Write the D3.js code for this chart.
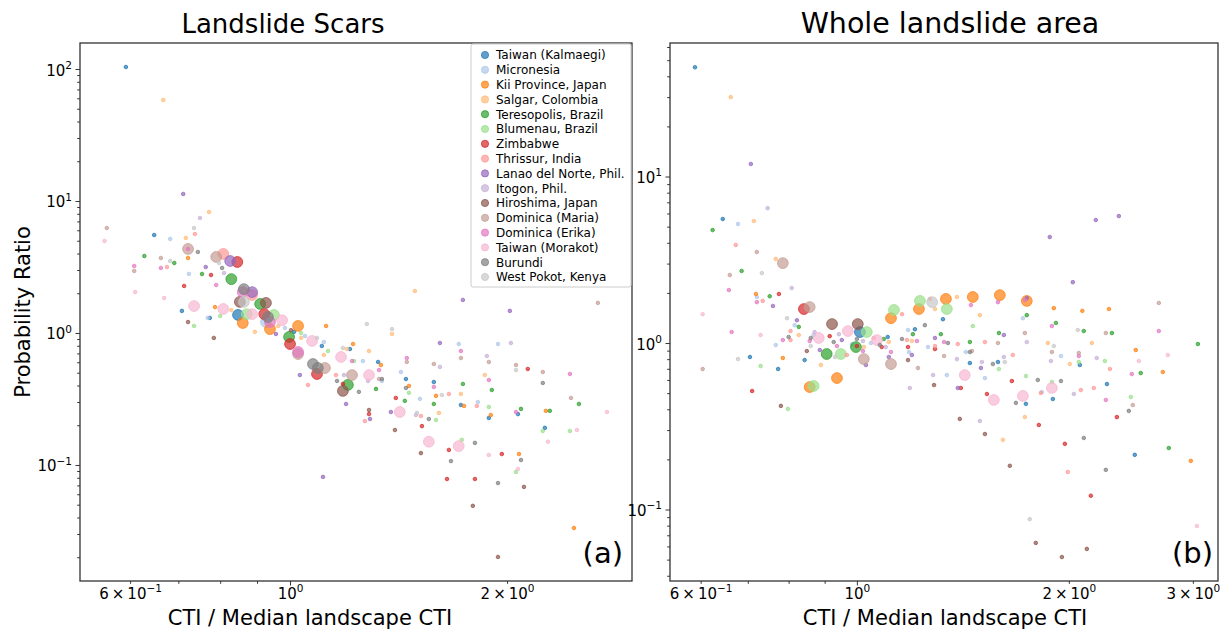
<!DOCTYPE html>
<html><head><meta charset="utf-8">
<script src="https://cdn.jsdelivr.net/npm/d3@7"></script>
<style>body{margin:0;background:#fff} svg text{font-family:"DejaVu Sans",sans-serif}</style>
</head><body><svg id="c" width="1227" height="632"></svg>
<script>
const events = ["Taiwan (Kalmaegi)","Micronesia","Kii Province, Japan","Salgar, Colombia","Teresopolis, Brazil","Blumenau, Brazil","Zimbabwe","Thrissur, India","Lanao del Norte, Phil.","Itogon, Phil.","Hiroshima, Japan","Dominica (Maria)","Dominica (Erika)","Taiwan (Morakot)","Burundi","West Pokot, Kenya"];
const eventColors = ["#1f77b4","#aec7e8","#ff7f0e","#ffbb78","#2ca02c","#98df8a","#d62728","#ff9896","#9467bd","#c5b0d5","#8c564b","#c49c94","#e377c2","#f7b6d2","#7f7f7f","#c7c7c7"];

// [CTI / median CTI, probability ratio, event index, sample weight]
const scarsPoints = [
[0.592,103.5,0,1],[0.667,58.2,3,1],[0.711,11.3,8,1],[0.772,8.26,3,1],[0.750,7.43,9,1],[0.557,6.24,11,1],[0.736,6.24,15,1],[0.738,5.62,7,1],[0.648,5.52,0,1],[0.553,4.98,13,1],
[0.682,5.16,1,1],[0.717,5.25,3,1],[0.722,4.33,11,9],[0.722,4.33,12,1],[0.628,3.83,4,1],[0.745,4.11,14,1],[0.662,3.70,11,1],[0.722,3.70,2,1],[0.790,3.77,11,9],[0.808,3.97,7,9],
[0.826,3.51,8,9],[0.845,3.45,6,9],[0.682,3.51,15,1],[0.691,3.39,4,1],[0.608,3.22,12,1],[0.608,2.95,11,1],[0.662,3.11,12,1],[0.675,3.16,7,1],[0.764,3.16,8,1],[0.805,3.11,14,1],
[0.797,3.39,15,1],[0.724,2.80,1,1],[0.755,2.80,4,1],[0.777,2.75,6,1],[0.810,2.85,9,1],[0.829,2.56,4,9],[0.713,2.27,6,1],[0.790,2.31,12,1],[0.610,2.04,13,1],[0.863,2.15,14,9],
[0.886,2.04,8,9],[0.860,2.04,12,9],[0.886,1.94,7,9],[0.669,1.84,13,1],[0.852,1.72,10,9],[0.863,1.72,15,9],[0.909,1.66,4,9],[0.926,1.69,10,9],[0.736,1.60,13,9],[0.808,1.52,13,9],
[0.787,1.57,2,1],[0.829,1.49,3,1],[0.708,1.47,0,1],[0.847,1.37,0,9],[0.871,1.39,5,9],[0.886,1.39,13,9],[0.921,1.39,6,9],[0.950,1.37,5,9],[0.932,1.32,14,9],[0.975,1.25,13,9],
[0.769,1.30,1,1],[0.774,1.30,0,1],[0.800,1.345,5,1],[0.722,1.21,10,1],[0.860,1.19,2,9],[0.926,1.21,1,9],[0.938,1.21,12,9],[1.026,1.13,2,9],[1.122,1.13,2,1],[0.736,1.13,5,1],
[0.938,1.07,2,9],[0.963,1.13,3,1],[0.984,1.09,1,1],[0.997,0.933,4,9],[1.278,1.17,15,1],[1.385,1.07,15,1],[1.385,0.983,3,1],[1.490,2.08,3,1],[1.737,1.78,8,1],[0.784,0.917,10,1],
[0.894,1.02,3,1],[0.956,0.983,8,1],[1.049,0.949,1,1],[1.090,0.917,15,1],[1.013,1.02,0,1],[1.003,1.05,10,1],[1.0,0.825,6,9],[1.036,0.917,3,1],[1.036,1.0,5,1],[1.073,0.870,13,9],
[1.026,0.718,12,9],[1.026,0.693,11,9],[1.107,0.797,0,1],[1.114,0.855,1,1],[1.129,0.730,5,1],[1.114,0.681,3,1],[1.184,0.770,15,1],[1.199,0.756,3,1],[1.211,0.756,0,1],[1.223,0.825,2,1],
[1.177,0.658,13,9],[1.227,0.613,5,1],[1.219,0.613,12,1],[1.262,0.613,1,1],[1.076,0.582,14,9],[1.093,0.543,14,9],[1.118,0.543,11,9],[1.090,0.489,6,9],[1.158,0.480,7,1],[1.188,0.480,9,1],
[1.219,0.480,11,9],[1.287,0.480,13,9],[1.032,0.480,8,1],[1.059,0.404,7,1],[1.162,0.433,14,1],[1.203,0.404,4,9],[1.184,0.364,10,9],[1.184,0.411,6,1],[1.246,0.358,14,1],[1.196,0.290,8,1],
[2.018,1.47,8,1],[2.673,1.69,11,1],[1.614,0.840,8,1],[1.714,0.825,1,1],[1.943,0.825,1,1],[2.025,0.840,9,1],[1.726,0.730,12,1],[1.726,0.646,11,1],[1.875,0.669,9,1],[1.887,0.603,11,1],
[1.583,0.582,11,1],[1.614,0.553,9,1],[2.058,0.572,11,1],[2.058,0.524,15,1],[2.137,0.534,6,1],[2.242,0.506,11,1],[2.445,0.489,12,1],[2.242,0.418,14,1],[1.863,0.480,3,1],[1.887,0.440,12,1],
[1.737,0.411,4,1],[1.905,0.370,4,1],[1.452,0.646,12,1],[1.452,0.603,11,1],[1.425,0.506,1,1],[1.448,0.448,0,1],[1.448,0.383,14,1],[1.462,0.397,2,1],[1.462,0.352,5,1],[1.402,0.322,6,1],
[1.443,0.306,4,1],[1.514,0.317,1,1],[1.380,0.252,8,1],[1.420,0.252,13,9],[1.583,0.425,0,1],[1.583,0.390,12,1],[1.594,0.334,2,1],[1.624,0.339,15,1],[1.661,0.345,7,1],[1.726,0.345,3,1],
[1.583,0.290,4,1],[1.609,0.248,3,1],[1.594,0.219,5,1],[1.558,0.223,14,1],[1.495,0.239,9,1],[1.519,0.235,7,1],[1.524,0.197,6,1],[1.398,0.184,10,1],[1.726,0.285,0,1],[1.743,0.280,2,1],
[1.816,0.280,7,1],[1.822,0.300,1,1],[1.887,0.275,5,1],[1.887,0.227,0,1],[1.899,0.239,2,1],[2.058,0.252,12,1],[2.071,0.243,0,1],[2.091,0.266,4,1],[2.264,0.257,2,1],[2.293,0.257,4,1],
[2.516,0.290,4,1],[2.453,0.322,11,1],[2.752,0.252,13,1],[2.257,0.191,0,1],[2.242,0.181,5,1],[2.445,0.181,5,1],[2.500,0.184,13,1],[2.279,0.150,13,1],[1.558,0.150,13,9],[1.714,0.139,13,9],
[1.731,0.155,5,1],[1.805,0.147,14,1],[1.661,0.130,6,1],[1.519,0.123,10,1],[1.672,0.107,14,1],[1.887,0.119,13,1],[1.967,0.121,6,1],[2.078,0.121,2,1],[2.091,0.109,14,1],[2.071,0.0933,13,1],
[2.058,0.0886,5,1],[1.651,0.0783,6,1],[1.805,0.0783,6,1],[1.943,0.0729,14,1],[2.111,0.0682,10,1],[1.793,0.0490,10,1],[2.476,0.0333,2,1],[1.943,0.0201,10,1],[1.111,0.0812,8,1],[1.287,0.730,3,1],
[1.325,0.603,0,1],[1.337,0.572,2,1],[1.329,0.524,12,1],[1.329,0.448,11,1],[1.341,0.448,14,1],[1.341,0.433,1,1],[1.316,0.377,4,1],[1.283,0.433,9,1],[1.287,0.261,10,1],[1.287,0.243,6,1],
[1.291,0.223,8,1],[1.270,0.215,7,1],[1.500,0.248,15,1]
];

const wholePoints = [
[0.589,45.3,0,1],[0.662,30.0,3,1],[0.707,11.9,8,1],[0.747,6.46,9,1],[0.645,5.56,0,1],[0.678,5.19,1,1],[0.714,5.41,3,1],[0.624,4.77,4,1],[0.673,3.88,7,1],[0.721,3.52,11,1],
[0.767,3.20,3,1],[0.785,3.02,11,9],[0.660,2.56,11,1],[0.686,2.71,4,1],[0.733,2.63,15,1],[0.658,2.08,12,1],[0.808,2.14,9,1],[0.719,1.97,2,1],[0.721,1.89,1,1],[0.752,1.91,4,1],
[0.775,1.97,6,1],[0.721,1.76,12,1],[0.735,1.79,7,1],[0.760,1.67,8,1],[0.841,1.60,6,9],[0.857,1.645,11,9],[0.604,1.49,13,1],[1.879,4.33,8,1],[2.184,5.48,8,1],[2.355,5.79,8,1],
[2.026,2.32,8,1],[2.684,1.74,11,1],[1.129,1.58,5,9],[1.118,1.41,2,9],[1.229,1.79,5,9],[1.279,1.76,15,9],[1.225,1.60,2,9],[1.338,1.84,2,9],[1.342,1.60,5,9],[1.461,1.89,2,9],
[1.596,1.94,2,9],[1.743,1.79,2,9],[1.743,1.86,8,1],[1.732,1.81,12,1],[1.387,1.89,3,1],[1.270,1.84,7,1],[1.291,1.60,3,1],[1.452,1.69,12,1],[1.586,1.76,12,1],[1.495,1.47,3,1],
[1.904,1.62,2,1],[2.090,1.56,2,1],[2.280,1.60,2,1],[1.159,1.49,7,1],[1.743,1.47,4,1],[1.325,1.39,0,1],[1.721,1.41,1,1],[0.664,1.164,12,1],[0.730,1.117,13,1],[0.796,1.41,15,1],
[0.822,1.37,8,1],[0.816,1.28,1,1],[0.827,1.25,4,1],[0.805,1.18,7,1],[0.800,1.087,14,1],[0.827,1.117,3,1],[0.785,1.042,12,1],[0.805,1.042,7,1],[0.767,0.973,1,1],[0.678,0.801,15,1],
[0.604,0.698,11,1],[0.705,0.824,0,1],[0.730,0.727,5,1],[0.785,0.813,2,1],[0.773,0.698,0,1],[0.710,0.515,6,1],[0.780,0.419,10,1],[0.798,0.402,5,1],[0.922,1.30,10,9],[1.003,1.30,10,9],
[0.883,1.072,13,9],[0.971,1.18,13,9],[1.010,1.164,0,9],[1.033,1.164,5,9],[0.906,0.859,4,9],[0.949,0.859,5,9],[0.997,0.946,4,9],[1.023,0.801,11,9],[1.118,0.748,11,9],[0.937,0.616,2,9],
[0.857,0.544,2,9],[0.868,0.552,5,9],[1.068,1.042,13,9],[0.860,1.072,14,1],[0.857,1.028,12,1],[0.868,1.117,1,1],[0.871,1.164,9,1],[0.886,0.908,8,1],[0.860,0.959,15,1],[0.849,0.895,10,1],
[0.843,0.790,0,1],[0.915,1.10,6,1],[0.927,1.014,14,1],[0.952,1.042,8,1],[0.943,1.13,9,1],[0.937,0.959,12,1],[0.968,0.847,7,1],[0.931,0.824,15,1],[0.889,0.738,3,1],[0.984,0.986,1,1],
[1.0,0.959,6,1],[1.0,1.057,14,1],[1.020,1.028,9,1],[1.023,0.946,3,1],[1.020,0.895,12,1],[1.030,0.738,8,1],[1.047,1.0,1,1],[1.057,1.072,7,1],[1.078,0.973,14,1],[1.092,1.057,4,1],
[1.106,1.087,0,1],[1.085,0.946,6,1],[1.099,0.946,9,1],[1.110,1.014,3,1],[1.118,0.883,12,1],[1.110,0.824,8,1],[1.182,1.197,1,1],[1.159,1.057,14,1],[1.209,1.21,0,1],[1.201,1.13,4,1],
[1.178,1.042,7,1],[1.197,1.028,3,1],[1.217,1.028,12,1],[1.182,0.946,6,1],[1.186,0.883,1,1],[1.197,0.847,8,1],[1.182,0.790,10,1],[1.221,0.708,11,1],[1.189,0.537,9,1],[1.249,1.28,14,1],
[1.316,1.13,4,1],[1.291,1.072,8,1],[1.291,0.959,7,1],[1.262,0.946,1,1],[1.291,0.920,6,1],[1.330,1.014,12,1],[1.347,1.0,14,1],[1.330,0.835,11,1],[1.342,0.642,1,1],[1.283,0.642,9,1],
[1.287,0.559,10,1],[1.391,0.537,8,1],[1.405,0.537,6,1],[1.387,0.801,9,1],[1.391,0.986,7,1],[1.461,1.265,5,1],[1.447,1.014,4,1],[1.428,0.883,1,1],[1.457,0.895,11,1],[1.447,0.758,0,1],
[1.447,0.883,14,1],[1.505,0.769,9,1],[1.500,0.708,8,1],[1.520,0.616,1,1],[1.530,0.494,6,1],[1.423,0.642,13,9],[1.565,0.455,13,9],[1.495,0.340,9,1],[1.520,0.284,10,1],[1.400,0.350,10,1],
[1.520,1.014,7,1],[1.591,1.148,4,1],[1.617,1.117,8,1],[1.586,1.0,11,1],[1.617,0.824,9,1],[1.586,0.769,0,1],[1.560,0.748,14,1],[1.622,0.769,15,1],[1.591,0.698,5,1],[1.665,0.847,7,1],
[1.660,0.591,6,1],[1.612,0.262,3,1],[1.682,0.437,14,1],[1.738,0.431,0,1],[1.721,0.481,13,9],[1.732,1.148,11,1],[1.743,1.014,9,1],[1.738,0.633,5,1],[1.807,0.60,14,1],[1.831,0.508,1,1],
[1.825,0.501,7,1],[1.732,0.359,3,1],[1.813,0.322,6,1],[1.649,0.183,10,1],[1.760,0.0875,15,1],[1.795,0.0630,10,1],[1.955,0.0518,10,1],[2.121,0.0580,10,1],[2.149,0.121,6,1],[1.993,0.168,7,1],
[2.100,0.269,14,1],[1.974,0.248,6,1],[1.917,1.32,4,1],[1.892,1.265,12,1],[1.867,1.0,3,1],[1.904,0.959,15,1],[1.892,0.883,11,1],[1.886,0.780,9,1],[1.892,0.583,5,1],[1.949,0.591,14,1],
[1.892,0.537,13,9],[1.898,0.461,0,1],[1.949,0.835,1,1],[2.006,0.748,3,1],[2.033,0.494,9,1],[2.080,0.522,7,1],[2.059,1.197,15,1],[2.100,1.18,4,1],[2.066,0.871,11,1],[2.066,0.835,12,1],
[2.073,0.738,0,1],[2.066,0.769,5,1],[2.156,1.0,3,1],[2.191,0.813,9,1],[2.250,0.780,5,1],[2.287,0.698,7,1],[2.170,0.537,7,1],[2.265,0.567,0,1],[2.257,0.455,12,1],[2.257,1.148,11,1],
[2.302,1.148,4,1],[2.340,0.359,6,1],[2.257,0.173,14,1],[2.481,0.213,0,1],[2.433,0.391,14,1],[2.465,0.424,11,1],[2.449,0.474,5,1],[2.457,0.651,12,1],[2.514,0.780,13,1],[2.530,0.660,4,1],
[2.489,0.908,2,1],[2.684,1.18,12,1],[2.764,0.847,13,1],[2.719,0.670,2,1],[3.050,0.986,4,1],[2.773,0.234,4,1],[2.980,0.196,2,1],[3.040,0.0796,13,1]
];

const panelTitles = ["Landslide Scars", "Whole landslide area"];
const panelTags = ["(a)", "(b)"];
const xAxisLabel = "CTI / Median landscape CTI";
const yAxisLabel = "Probability Ratio";
const scarsXDomain = [0.5113, 2.981], scarsYDomain = [0.01321, 157.4];
const wholeXDomain = [0.5428, 3.257], wholeYDomain = [0.0372, 63.4];
const scarsXTickLabels = {0.6: "6\u2009×\u200910^−1", 1: "10^0", 2: "2\u2009×\u200910^0"};
const wholeXTickLabels = {0.6: "6\u2009×\u200910^−1", 1: "10^0", 2: "2\u2009×\u200910^0", 3: "3\u2009×\u200910^0"};
const scarsYTickLabels = {0.1: "10^−1", 1: "10^0", 10: "10^1", 100: "10^2"};
const wholeYTickLabels = {0.1: "10^−1", 1: "10^0", 10: "10^1"};

const svg = d3.select("#c");
const axisColor = "#333";
const rScale = d3.scaleSqrt().domain([0, 9]).range([0, 5.4]);

function labelFor(map, v) {
  for (const k in map) if (Math.abs(+k - v) / v < 1e-6) return map[k];
  return null;
}
function writeSup(textSel, label, size) {
  textSel.text(null);
  const parts = label.split("^");
  textSel.append("tspan").text(parts[0]);
  if (parts[1]) textSel.append("tspan").attr("font-size", size * 0.7).attr("dy", -size * 0.45).text(parts[1]);
}

const panels = [
  {x0: 80, x1: 632, y0: 43, y1: 581, xd: scarsXDomain, yd: scarsYDomain, data: scarsPoints, xl: scarsXTickLabels, yl: scarsYTickLabels, titleX: 283, titleSize: 26, xlabX: 310, tagX: 623, legend: true},
  {x0: 670, x1: 1218, y0: 43, y1: 581, xd: wholeXDomain, yd: wholeYDomain, data: wholePoints, xl: wholeXTickLabels, yl: wholeYTickLabels, titleX: 950, titleSize: 28.5, xlabX: 945, tagX: 1213, legend: false}
];

panels.forEach((p, pi) => {
  const x = d3.scaleLog().domain(p.xd).range([p.x0, p.x1]);
  const y = d3.scaleLog().domain(p.yd).range([p.y1, p.y0]);
  const g = svg.append("g");

  const pts = p.data.map((d, i) => ({cti: d[0], pr: d[1], ev: d[2], w: d[3], i}))
    .sort((a, b) => a.ev - b.ev || a.i - b.i);
  const clipId = "clip" + pi;
  svg.append("clipPath").attr("id", clipId).append("rect")
    .attr("x", p.x0).attr("y", p.y0).attr("width", p.x1 - p.x0).attr("height", p.y1 - p.y0);
  g.append("g").attr("clip-path", `url(#${clipId})`).selectAll("circle").data(pts).join("circle")
    .attr("cx", d => x(d.cti)).attr("cy", d => y(d.pr)).attr("r", d => rScale(d.w))
    .attr("fill", d => eventColors[d.ev]).attr("fill-opacity", 0.7)
    .attr("stroke", d => eventColors[d.ev]).attr("stroke-opacity", 0.75).attr("stroke-width", 1);

  const xt = x.ticks();
  const yt = y.ticks();
  const isMajor = v => Math.abs(Math.log10(v) - Math.round(Math.log10(v))) < 1e-9;
  const xAx = g.append("g").attr("transform", `translate(0,${p.y1})`)
    .call(d3.axisBottom(x).tickValues(xt).tickSizeOuter(0).tickPadding(5).tickFormat(() => ""));
  xAx.selectAll(".tick line").attr("y2", d => isMajor(d) ? 4.5 : 2.8).attr("stroke", axisColor);
  xAx.selectAll(".tick text").each(function(d) {
    const lab = labelFor(p.xl, d);
    const t = d3.select(this).attr("font-size", 15).attr("fill", "#000").attr("dy", null).attr("y", 18);
    if (lab) writeSup(t, lab, 15);
  });
  const yAx = g.append("g").attr("transform", `translate(${p.x0},0)`)
    .call(d3.axisLeft(y).tickValues(yt).tickSizeOuter(0).tickPadding(4).tickFormat(() => ""));
  yAx.selectAll(".tick line").attr("x2", d => isMajor(d) ? -4.5 : -2.8).attr("stroke", axisColor);
  yAx.selectAll(".tick text").each(function(d) {
    const lab = labelFor(p.yl, d);
    const t = d3.select(this).attr("font-size", 15).attr("fill", "#000").attr("dy", null).attr("y", 6).attr("x", -8);
    if (lab) writeSup(t, lab, 15);
  });
  g.selectAll(".domain").remove();

  g.append("rect").attr("x", p.x0).attr("y", p.y0).attr("width", p.x1 - p.x0).attr("height", p.y1 - p.y0)
    .attr("fill", "none").attr("stroke", axisColor).attr("stroke-width", 1.3);

  g.append("text").attr("x", p.titleX).attr("y", 33).attr("text-anchor", "middle")
    .attr("font-size", p.titleSize).attr("fill", "#000").text(panelTitles[pi]);
  g.append("text").attr("x", p.xlabX).attr("y", 625).attr("text-anchor", "middle")
    .attr("font-size", 21).attr("fill", "#000").text(xAxisLabel);
  g.append("text").attr("x", p.tagX).attr("y", 563).attr("text-anchor", "end")
    .attr("font-size", 29).attr("fill", "#000").text(panelTags[pi]);

  if (p.legend) {
    const lg = g.append("g");
    lg.append("rect").attr("x", 471).attr("y", 44).attr("width", 160).attr("height", 243)
      .attr("rx", 2).attr("fill", "#fff").attr("fill-opacity", 0.85).attr("stroke", "#cccccc").attr("stroke-width", 1);
    const row = lg.selectAll("g.row").data(events).join("g").attr("class", "row")
      .attr("transform", (d, i) => `translate(485,${55 + i * 14.8})`);
    row.append("circle").attr("r", 3.6).attr("fill", (d, i) => eventColors[i]).attr("fill-opacity", 0.7)
      .attr("stroke", (d, i) => eventColors[i]).attr("stroke-opacity", 0.75);
    row.append("text").attr("x", 11).attr("y", 4.3).attr("font-size", 12).attr("fill", "#000").text(d => d);
  }
});

svg.append("text").attr("transform", "translate(30,312) rotate(-90)").attr("text-anchor", "middle")
  .attr("font-size", 21).attr("fill", "#000").text(yAxisLabel);
</script></body></html>
